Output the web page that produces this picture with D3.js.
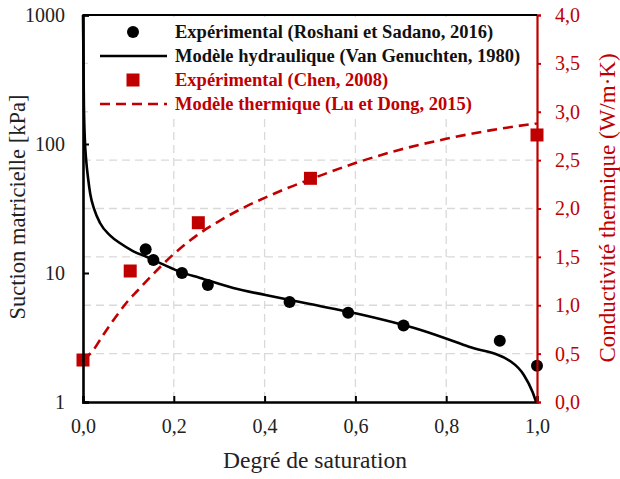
<!DOCTYPE html>
<html>
<head>
<meta charset="utf-8">
<script src="https://cdn.jsdelivr.net/npm/d3@7"></script>
<style>
  body { margin: 0; background: #fff; }
  svg text { font-family: "Liberation Serif", "DejaVu Serif", serif !important; }
</style>
</head>
<body>
<div id="chart"></div>
<script>
// Experimental suction (Roshani et Sadano, 2016)
var suctionS = [0.138, 0.155, 0.218, 0.275, 0.455, 0.584, 0.706, 0.918, 1.0];
var suctionKPa = [15.3, 12.6, 10.0, 8.07, 5.95, 4.92, 3.91, 2.99, 1.91];

// Van Genuchten model
var vgS = [0.0, 0.002, 0.004, 0.007, 0.011, 0.016, 0.025, 0.0375, 0.06, 0.082, 0.11, 0.141, 0.18, 0.214, 0.258, 0.331, 0.402, 0.5, 0.6, 0.744, 0.85, 0.943, 0.971, 0.99, 0.998];
var vgKPa = [1000, 200, 110, 75, 55, 41, 31, 24.4, 19.5, 17.0, 14.8, 13.3, 11.5, 10.2, 9.15, 7.65, 6.75, 5.74, 4.87, 3.61, 2.68, 2.05, 1.62, 1.2, 1.0];

// Experimental conductivity (Chen, 2008)
var chenS = [0.0, 0.104, 0.254, 0.501, 1.0];
var chenK = [0.434, 1.354, 1.853, 2.312, 2.76];

// Thermal model (Lu et Dong, 2015)
var luS = [0.0, 0.02, 0.04, 0.06, 0.08, 0.10, 0.12, 0.15, 0.20, 0.25, 0.30, 0.35, 0.40, 0.45, 0.50, 0.60, 0.70, 0.80, 0.90, 1.0];
var luK = [0.44, 0.52, 0.66, 0.80, 0.93, 1.05, 1.15, 1.30, 1.53, 1.72, 1.87, 2.00, 2.11, 2.21, 2.30, 2.47, 2.61, 2.72, 2.81, 2.88];

var xTicks = [0, 0.2, 0.4, 0.6, 0.8, 1.0];
var yLeftTicks = [1, 10, 100, 1000];
var yRightTicks = [0, 0.5, 1.0, 1.5, 2.0, 2.5, 3.0, 3.5, 4.0];

var legendItems = [
  "Expérimental (Roshani et Sadano, 2016)",
  "Modèle hydraulique (Van Genuchten, 1980)",
  "Expérimental (Chen, 2008)",
  "Modèle thermique (Lu et Dong, 2015)"
];

var red = "#c00000";
var serif = "'Liberation Serif', 'DejaVu Serif', serif";
var width = 620, height = 479;
var margin = {top: 15, right: 83, bottom: 77, left: 83};

var svg = d3.select("#chart").append("svg")
  .attr("width", width)
  .attr("height", height)
  .attr("font-family", serif);

var x = d3.scaleLinear().domain([0, 1]).range([margin.left, width - margin.right]);
var y = d3.scaleLog().domain([1, 1000]).range([height - margin.bottom, margin.top]);
var y2 = d3.scaleLinear().domain([0, 4]).range([height - margin.bottom, margin.top]);

var fmt = function(d) { return d3.format(".1f")(d).replace(".", ","); };

// gridlines
var grid = svg.append("g")
  .attr("stroke", "#d9d9d9")
  .attr("stroke-width", 1.3)
  .attr("stroke-dasharray", "8,5");

grid.selectAll(".vg")
  .data(xTicks.slice(1, -1))
  .enter().append("line")
  .attr("x1", d => x(d)).attr("x2", d => x(d))
  .attr("y1", y2(4)).attr("y2", y2(0));

grid.selectAll(".hg")
  .data(yRightTicks.slice(1, -1))
  .enter().append("line")
  .attr("x1", x(0)).attr("x2", x(1))
  .attr("y1", d => y2(d)).attr("y2", d => y2(d));

// legend background hides the grid behind it
svg.append("rect")
  .attr("x", x(0) + 5).attr("y", margin.top + 2)
  .attr("width", x(1) - x(0) - 8).attr("height", 98)
  .attr("fill", "#fff");

// thermal model
var lineK = d3.line()
  .x((d, i) => x(luS[i]))
  .y(d => y2(d))
  .curve(d3.curveMonotoneX);

svg.append("path")
  .attr("d", lineK(luK))
  .attr("fill", "none")
  .attr("stroke", red)
  .attr("stroke-width", 2.6)
  .attr("stroke-dasharray", "10,6");

// hydraulic model
var lineS = d3.line()
  .x((d, i) => x(vgS[i]))
  .y(d => y(d))
  .curve(d3.curveMonotoneX);

svg.append("path")
  .attr("d", lineS(vgKPa))
  .attr("fill", "none")
  .attr("stroke", "#000")
  .attr("stroke-width", 2.6);

// Chen squares
svg.selectAll(".sq")
  .data(chenK)
  .enter().append("rect")
  .attr("x", (d, i) => x(chenS[i]) - 6.5)
  .attr("y", d => y2(d) - 6.5)
  .attr("width", 13).attr("height", 13)
  .attr("fill", red);

// suction points
svg.selectAll(".pt")
  .data(suctionKPa)
  .enter().append("circle")
  .attr("cx", (d, i) => x(suctionS[i]))
  .attr("cy", d => y(d))
  .attr("r", 6)
  .attr("fill", "#000");

// axes
var xAxis = svg.append("g")
  .attr("transform", "translate(0," + y(1) + ")")
  .call(d3.axisBottom(x).tickValues(xTicks).tickFormat(fmt).tickSize(-6).tickPadding(17));

var yAxis = svg.append("g")
  .attr("transform", "translate(" + x(0) + ",0)")
  .call(d3.axisLeft(y).tickValues(yLeftTicks).tickFormat(d3.format("d")).tickSize(-6).tickPadding(18));

var y2Axis = svg.append("g")
  .attr("transform", "translate(" + x(1) + ",0)")
  .call(d3.axisRight(y2).tickValues(yRightTicks).tickFormat(fmt).tickSize(4).tickPadding(14));

[xAxis, yAxis, y2Axis].forEach(function(a) {
  a.attr("font-family", serif).attr("font-size", 20);
});
[xAxis, yAxis].forEach(function(a) {
  a.select(".domain").attr("stroke", "#000").attr("stroke-width", 2.6);
  a.selectAll(".tick line").attr("stroke", "#000").attr("stroke-width", 2);
  a.selectAll("text").attr("fill", "#222");
});
y2Axis.select(".domain").attr("stroke", red).attr("stroke-width", 2.2);
y2Axis.selectAll(".tick line").attr("stroke", red).attr("stroke-width", 2);
y2Axis.selectAll("text").attr("fill", red);

// top border
svg.append("line")
  .attr("x1", x(0)).attr("x2", x(1))
  .attr("y1", y2(4)).attr("y2", y2(4))
  .attr("stroke", "#000").attr("stroke-width", 2);

// axis titles
svg.append("text")
  .attr("x", 315).attr("y", 468)
  .attr("text-anchor", "middle")
  .attr("font-size", "23.5px").attr("fill", "#222")
  .text("Degré de saturation");

svg.append("text")
  .attr("transform", "translate(25,207) rotate(-90)")
  .attr("text-anchor", "middle")
  .attr("font-size", "22.5px").attr("fill", "#222")
  .text("Suction matricielle [kPa]");

svg.append("text")
  .attr("transform", "translate(615,208) rotate(-90)")
  .attr("text-anchor", "middle")
  .attr("font-size", "23px").attr("fill", red)
  .text("Conductivité thermique (W/m·K)");

// legend
var legend = svg.selectAll(".legend")
  .data(legendItems)
  .enter().append("g")
  .attr("class", "legend")
  .attr("transform", (d, i) => "translate(0," + (32 + i * 24) + ")");

legend.append("text")
  .attr("x", 175)
  .attr("dy", ".35em")
  .attr("font-size", "18.5px")
  .attr("font-weight", "bold")
  .attr("fill", (d, i) => i < 2 ? "#111" : red)
  .text(d => d);

legend.filter((d, i) => i === 0).append("circle")
  .attr("cx", 133).attr("r", 6).attr("fill", "#000");
legend.filter((d, i) => i === 1).append("line")
  .attr("x1", 100).attr("x2", 167)
  .attr("stroke", "#000").attr("stroke-width", 2.6);
legend.filter((d, i) => i === 2).append("rect")
  .attr("x", 126.5).attr("y", -6.5).attr("width", 13).attr("height", 13)
  .attr("fill", red);
legend.filter((d, i) => i === 3).append("line")
  .attr("x1", 100).attr("x2", 167)
  .attr("stroke", red).attr("stroke-width", 2.6)
  .attr("stroke-dasharray", "10,6");
</script>
</body>
</html>
